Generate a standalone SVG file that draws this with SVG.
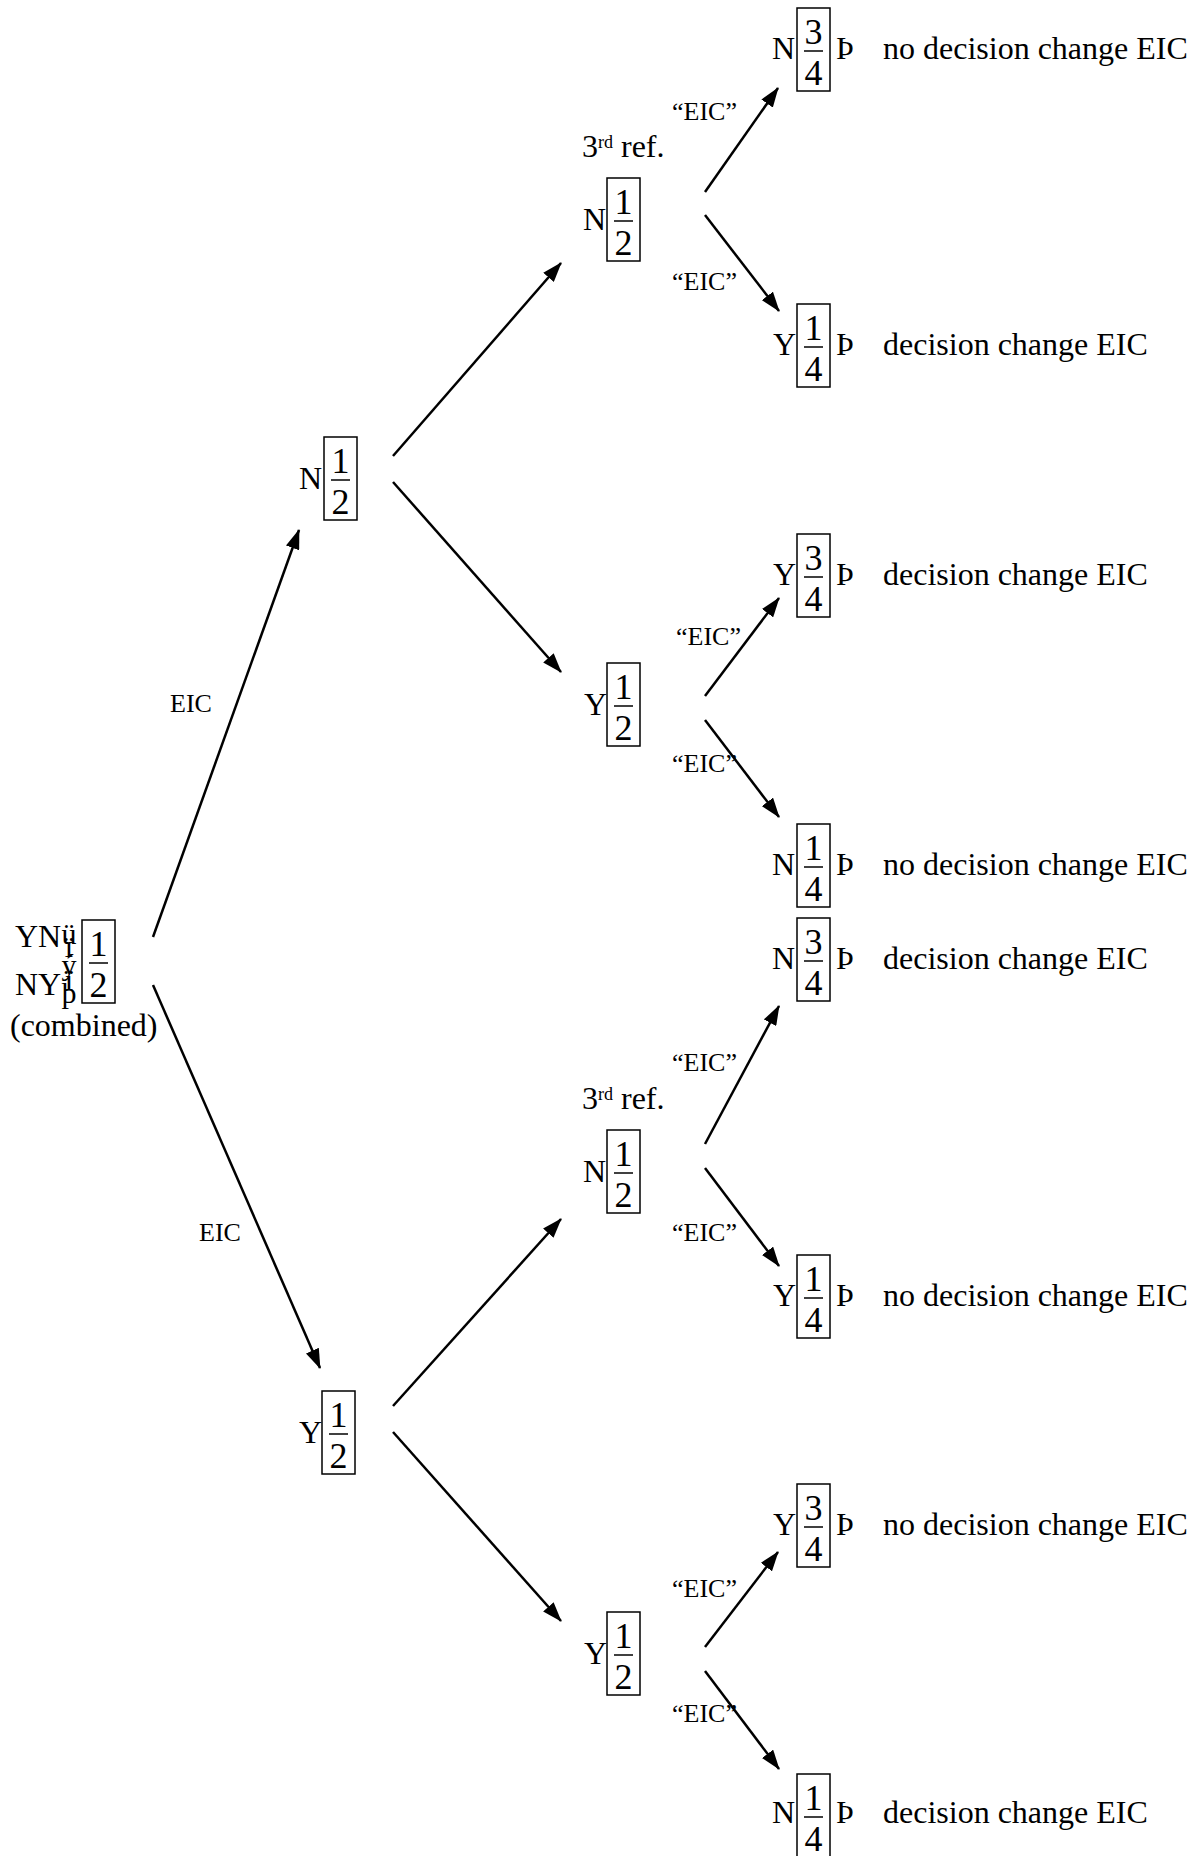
<svg xmlns="http://www.w3.org/2000/svg" width="1193" height="1856" viewBox="0 0 1193 1856">
<style>
text{font-family:"Liberation Serif","Times New Roman",serif;fill:#000}
.t{font-size:32px}
.s{font-size:26px}
.g{font-size:30px;text-anchor:middle}
.sup{font-size:18px}
.d{font-size:36px;text-anchor:middle}
.box{fill:none;stroke:#000;stroke-width:1.5}
.bar{stroke:#000;stroke-width:1.5}
.c line{stroke:#000;stroke-width:2.5;marker-end:url(#ah)}
</style>
<defs>
<marker id="ah" viewBox="0 0 20 14" refX="19" refY="7" markerWidth="20" markerHeight="14" markerUnits="userSpaceOnUse" orient="auto">
<path d="M0,0 L20,7 L0,14 z" fill="#000"/>
</marker>
<g id="f12"><rect class="box" x="0" y="0" width="33" height="83"/><text class="d" x="16.5" y="36">1</text><line class="bar" x1="7" y1="43" x2="26" y2="43"/><text class="d" x="16.5" y="77">2</text></g>
<g id="f34"><rect class="box" x="0" y="0" width="33" height="83"/><text class="d" x="16.5" y="36">3</text><line class="bar" x1="7" y1="43" x2="26" y2="43"/><text class="d" x="16.5" y="77">4</text></g>
<g id="f14"><rect class="box" x="0" y="0" width="33" height="83"/><text class="d" x="16.5" y="36">1</text><line class="bar" x1="7" y1="43" x2="26" y2="43"/><text class="d" x="16.5" y="77">4</text></g>
</defs>

<g id="connectors" class="c">
<line x1="153" y1="937" x2="299" y2="530"/>
<line x1="153" y1="985" x2="320" y2="1368"/>
<line x1="393" y1="456" x2="561" y2="263"/>
<line x1="393" y1="482" x2="561" y2="672"/>
<line x1="393" y1="1406" x2="561" y2="1219"/>
<line x1="393" y1="1432" x2="561" y2="1621"/>
<line x1="705" y1="192" x2="778" y2="88"/>
<line x1="705" y1="215" x2="779" y2="311"/>
<line x1="705" y1="696" x2="779" y2="598"/>
<line x1="705" y1="720" x2="779" y2="817"/>
<line x1="705" y1="1144" x2="779" y2="1006"/>
<line x1="705" y1="1168" x2="779" y2="1266"/>
<line x1="705" y1="1647" x2="778" y2="1552"/>
<line x1="705" y1="1671" x2="779" y2="1769"/>
<text class="s" x="170" y="712">EIC</text>
<text class="s" x="199" y="1241">EIC</text>
<text class="s" x="672" y="120">“EIC”</text>
<text class="s" x="672" y="290">“EIC”</text>
<text class="s" x="676" y="645">“EIC”</text>
<text class="s" x="672" y="772">“EIC”</text>
<text class="s" x="672" y="1071">“EIC”</text>
<text class="s" x="672" y="1241">“EIC”</text>
<text class="s" x="672" y="1597">“EIC”</text>
<text class="s" x="672" y="1722">“EIC”</text>
</g>

<g id="root">
<text class="t" x="15" y="947">YN</text>
<text class="t" x="15" y="995">NY</text>
<text class="g" x="69" y="944">ü</text>
<text class="g" x="69" y="957">ï</text>
<text class="g" x="69" y="975">ý</text>
<text class="g" x="69" y="990">ï</text>
<text class="g" x="69" y="1003">þ</text>
<use href="#f12" x="82" y="920"/>
<text class="t" x="10" y="1036">(combined)</text>
</g>

<g id="n-l2-N">
<text class="t" x="299" y="489">N</text>
<use href="#f12" x="324" y="437"/>
</g>
<g id="n-l2-Y">
<text class="t" x="299" y="1443">Y</text>
<use href="#f12" x="322" y="1391"/>
</g>

<g id="n-l3-A">
<text class="t" x="582" y="157">3<tspan class="sup" dy="-9">rd</tspan></text>
<text class="t" x="621" y="157">ref.</text>
<text class="t" x="583" y="230">N</text>
<use href="#f12" x="607" y="178"/>
</g>
<g id="n-l3-B">
<text class="t" x="584" y="715">Y</text>
<use href="#f12" x="607" y="663"/>
</g>
<g id="n-l3-C">
<text class="t" x="582" y="1109">3<tspan class="sup" dy="-9">rd</tspan></text>
<text class="t" x="621" y="1109">ref.</text>
<text class="t" x="583" y="1182">N</text>
<use href="#f12" x="607" y="1130"/>
</g>
<g id="n-l3-D">
<text class="t" x="584" y="1664">Y</text>
<use href="#f12" x="607" y="1612"/>
</g>

<g id="leaf1"><text class="t" x="772" y="59">N</text><use href="#f34" x="797" y="8"/><text class="t" x="836" y="59">Þ</text><text class="t" x="883" y="59">no decision change EIC</text></g>
<g id="leaf2"><text class="t" x="773" y="355">Y</text><use href="#f14" x="797" y="304"/><text class="t" x="836" y="355">Þ</text><text class="t" x="883" y="355">decision change EIC</text></g>
<g id="leaf3"><text class="t" x="773" y="585">Y</text><use href="#f34" x="797" y="534"/><text class="t" x="836" y="585">Þ</text><text class="t" x="883" y="585">decision change EIC</text></g>
<g id="leaf4"><text class="t" x="772" y="875">N</text><use href="#f14" x="797" y="824"/><text class="t" x="836" y="875">Þ</text><text class="t" x="883" y="875">no decision change EIC</text></g>
<g id="leaf5"><text class="t" x="772" y="969">N</text><use href="#f34" x="797" y="918"/><text class="t" x="836" y="969">Þ</text><text class="t" x="883" y="969">decision change EIC</text></g>
<g id="leaf6"><text class="t" x="773" y="1306">Y</text><use href="#f14" x="797" y="1255"/><text class="t" x="836" y="1306">Þ</text><text class="t" x="883" y="1306">no decision change EIC</text></g>
<g id="leaf7"><text class="t" x="773" y="1535">Y</text><use href="#f34" x="797" y="1484"/><text class="t" x="836" y="1535">Þ</text><text class="t" x="883" y="1535">no decision change EIC</text></g>
<g id="leaf8"><text class="t" x="772" y="1823">N</text><use href="#f14" x="797" y="1774"/><text class="t" x="836" y="1823">Þ</text><text class="t" x="883" y="1823">decision change EIC</text></g>
</svg>
